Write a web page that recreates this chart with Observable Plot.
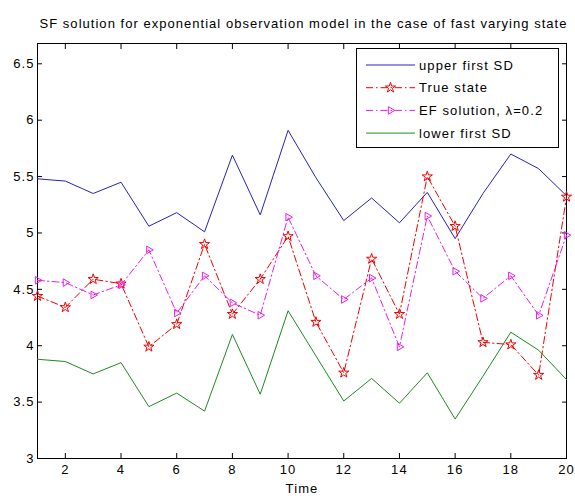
<!DOCTYPE html>
<html>
<head>
<meta charset="utf-8">
<script src="https://cdn.jsdelivr.net/npm/d3@7"></script>
<script src="https://cdn.jsdelivr.net/npm/@observablehq/plot@0.6"></script>
<style>
  html, body { margin: 0; padding: 0; background: #fff; }
  #chart svg { display: block; }
</style>
</head>
<body>
<div id="chart"></div>
<script>
const titleText = "SF solution for exponential observation model in the case of fast varying state";
const xLabel = "Time";
const time = [1,2,3,4,5,6,7,8,9,10,11,12,13,14,15,16,17,18,19,20];
const upperSD   = [5.48,5.46,5.35,5.45,5.06,5.18,5.01,5.69,5.16,5.91,5.49,5.11,5.31,5.09,5.36,4.95,5.35,5.70,5.57,5.33];
const trueState = [4.44,4.34,4.59,4.55,3.99,4.19,4.90,4.28,4.59,4.97,4.21,3.76,4.77,4.28,5.50,5.06,4.03,4.01,3.74,5.32];
const efSolution= [4.58,4.56,4.45,4.54,4.85,4.29,4.62,4.38,4.27,5.14,4.62,4.41,4.60,3.99,5.15,4.66,4.42,4.62,4.27,4.98];
const lowerSD   = [3.88,3.86,3.75,3.85,3.46,3.58,3.42,4.10,3.57,4.31,3.91,3.51,3.71,3.49,3.76,3.35,3.73,4.12,3.96,3.70];
const xTicks = [2,4,6,8,10,12,14,16,18,20];
const yTicks = [3,3.5,4,4.5,5,5.5,6,6.5];
const seriesNames = ["upper first SD","True state","EF solution, \u03bb=0.2","lower first SD"];

const colors = {upper: "#2323c0", truth: "#f00000", ef: "#e81ee8", lower: "#1f8a1f"};
const dashDot = "7,3,1.5,3";

const mk = vals => time.map((t, i) => ({t, v: vals[i]}));
const upperData = mk(upperSD), trueData = mk(trueState), efData = mk(efSolution), lowerData = mk(lowerSD);

const fontFam = "'Liberation Sans', Arial, Helvetica, sans-serif";
const starR = 3.2, triR = 3.6;

const chart = Plot.plot({
  width: 575,
  height: 498,
  marginLeft: 37,
  marginRight: 9,
  marginTop: 43,
  marginBottom: 40,
  style: {fontFamily: fontFam, fontSize: "13px", color: "#000", background: "#fff", letterSpacing: "1.1px"},
  x: {domain: [1, 20]},
  y: {domain: [3, 6.68]},
  marks: [
    Plot.frame({stroke: "#000", strokeWidth: 1}),
    // tick labels
    Plot.axisX(xTicks, {anchor: "bottom", tickSize: 0, tickPadding: 6, fontSize: 13, tickFormat: d => String(d),
      label: xLabel, labelAnchor: "center", labelArrow: "none", labelOffset: 34}),
    Plot.axisY(yTicks, {anchor: "left", tickSize: 0, tickPadding: 3, fontSize: 13, tickFormat: d => String(d), label: null}),
    // inward ticks on all four sides
    Plot.axisX(xTicks, {anchor: "bottom", tickSize: 5, dy: -5, text: null, label: null, stroke: "#000"}),
    Plot.axisX(xTicks, {anchor: "top", tickSize: 5, dy: 5, text: null, label: null, stroke: "#000"}),
    Plot.axisY(yTicks, {anchor: "left", tickSize: 5, dx: 5, text: null, label: null, stroke: "#000"}),
    Plot.axisY(yTicks, {anchor: "right", tickSize: 5, dx: -5, text: null, label: null, stroke: "#000"}),
    // series
    Plot.line(upperData, {x: "t", y: "v", stroke: colors.upper, strokeWidth: 1}),
    Plot.line(trueData, {x: "t", y: "v", stroke: colors.truth, strokeWidth: 1, strokeDasharray: dashDot}),
    Plot.dot(trueData, {x: "t", y: "v", symbol: "star", r: starR, stroke: colors.truth, fill: "none", strokeWidth: 1}),
    Plot.line(efData, {x: "t", y: "v", stroke: colors.ef, strokeWidth: 1, strokeDasharray: dashDot}),
    Plot.dot(efData, {x: "t", y: "v", symbol: "triangle2", rotate: 90, r: triR, stroke: colors.ef, fill: "none", strokeWidth: 1}),
    Plot.line(lowerData, {x: "t", y: "v", stroke: colors.lower, strokeWidth: 1}),
    // title
    Plot.text([titleText], {frameAnchor: "top", dy: -25, dx: 1.5, fontSize: 13, fill: "#000"})
  ]
});

document.getElementById("chart").appendChild(chart);
chart.querySelectorAll("g[aria-label='text'] text").forEach(t => t.style.letterSpacing = "1.03px");

// Legend (MATLAB-style box)
const svg = d3.select(chart);
const lg = svg.append("g").attr("font-family", fontFam).attr("font-size", 13)
  .attr("text-anchor", "start").style("letter-spacing", "1.1px");
const bx = 356, by = 48, bw = 202, bh = 99;
lg.append("rect").attr("x", bx + 0.5).attr("y", by + 0.5).attr("width", bw).attr("height", bh)
  .attr("fill", "#fff").attr("stroke", "#000").attr("stroke-width", 1);
const entries = [
  {name: seriesNames[0], color: colors.upper, dash: null, sym: null},
  {name: seriesNames[1], color: colors.truth, dash: dashDot, sym: "star"},
  {name: seriesNames[2], color: colors.ef, dash: dashDot, sym: "tri"},
  {name: seriesNames[3], color: colors.lower, dash: null, sym: null}
];
entries.forEach((e, i) => {
  const y = 65 + i * 22.7;
  const ln = lg.append("line").attr("x1", 366).attr("x2", 415).attr("y1", y).attr("y2", y)
    .attr("stroke", e.color).attr("stroke-width", 1);
  if (e.dash) ln.attr("stroke-dasharray", e.dash);
  if (e.sym === "star") {
    lg.append("path").attr("d", d3.symbol(d3.symbolStar, Math.PI * starR * starR)())
      .attr("transform", `translate(390.5,${y})`).attr("fill", "none").attr("stroke", e.color);
  } else if (e.sym === "tri") {
    lg.append("path").attr("d", d3.symbol(d3.symbolTriangle2, Math.PI * triR * triR)())
      .attr("transform", `translate(390.5,${y}) rotate(90)`).attr("fill", "none").attr("stroke", e.color);
  }
  lg.append("text").attr("x", 419).attr("y", y).attr("dy", "0.35em").attr("fill", "#000").text(e.name);
});
</script>
</body>
</html>
